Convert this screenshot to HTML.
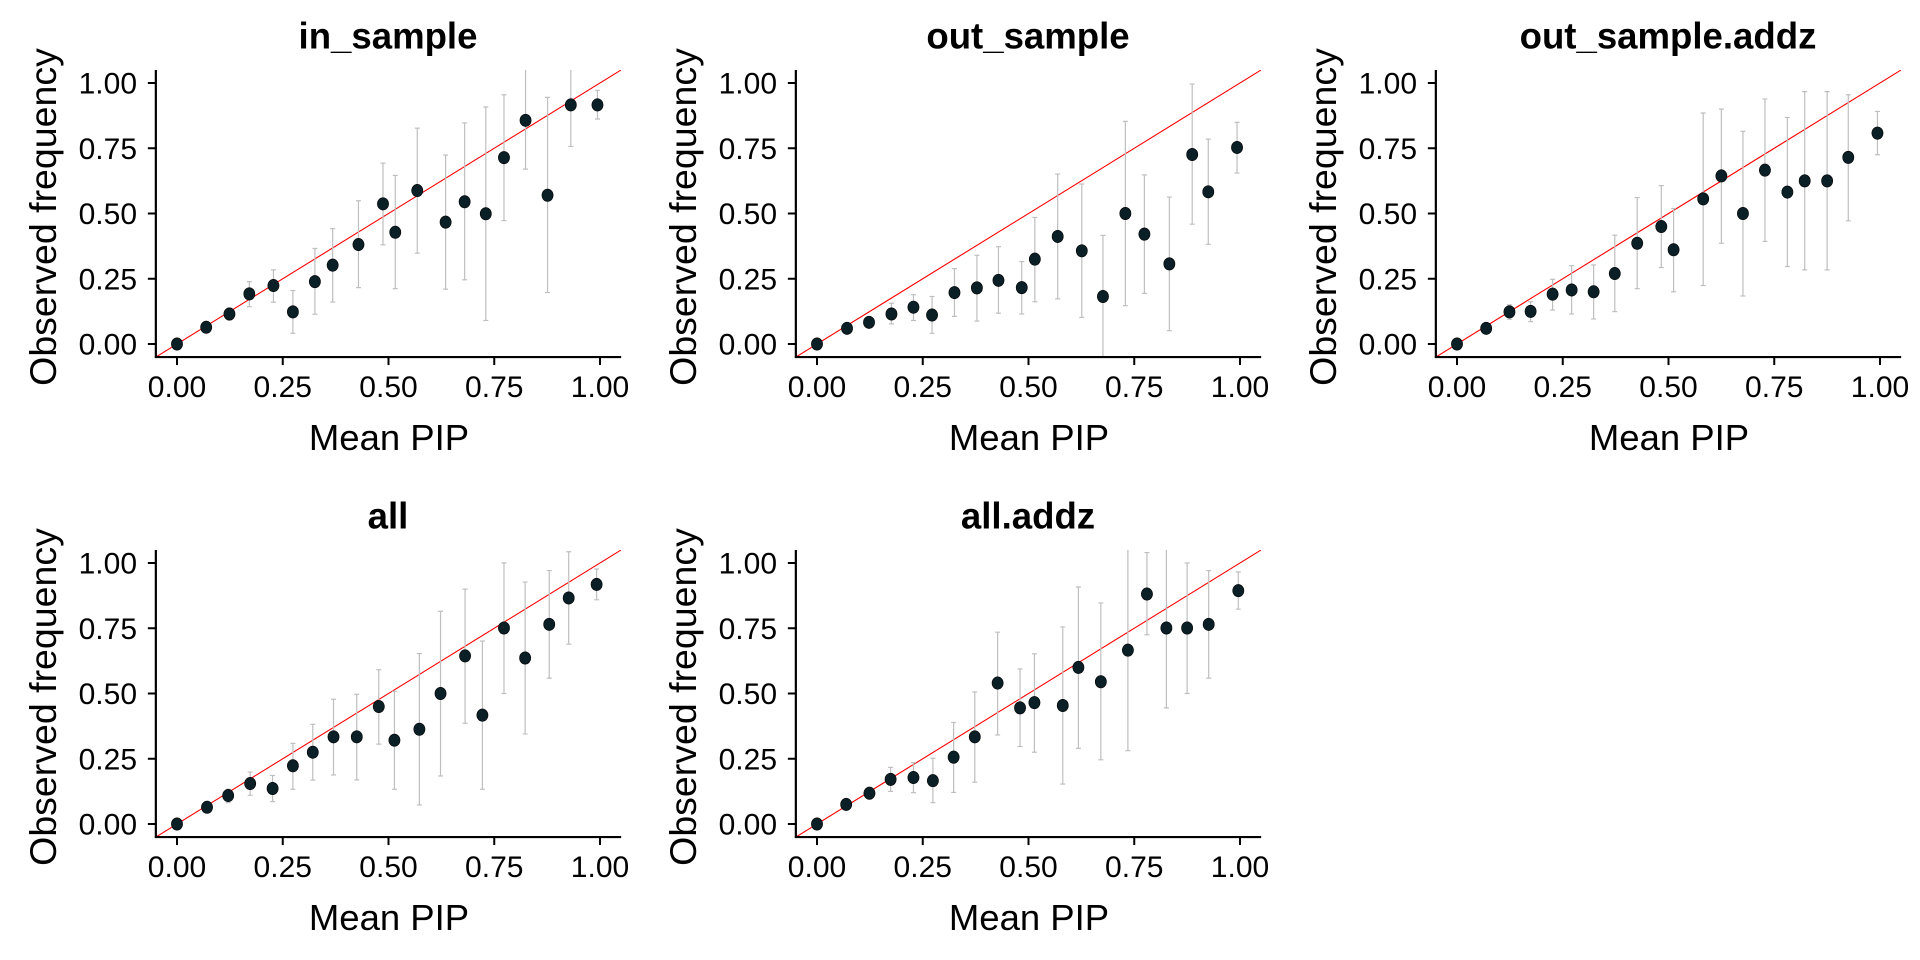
<!DOCTYPE html>
<html><head><meta charset="utf-8"><style>
html,body{margin:0;padding:0;background:#fff;}
svg{display:block;font-family:"Liberation Sans",Arial,sans-serif;}
</style></head><body>
<svg id="chart" width="1920" height="960" viewBox="0 0 1920 960"></svg>
<script>
const ticks=[0,0.25,0.5,0.75,1];
const tickLabels=["0.00","0.25","0.50","0.75","1.00"];
const panelTitles=["in_sample","out_sample","out_sample.addz","all","all.addz"];

const inX=[0,0.069,0.124,0.171,0.228,0.274,0.326,0.368,0.429,0.487,0.516,0.568,0.635,0.680,0.730,0.773,0.824,0.876,0.931,0.994];
const inY=[0,0.064,0.115,0.192,0.224,0.123,0.239,0.302,0.381,0.537,0.428,0.588,0.467,0.545,0.499,0.714,0.857,0.570,0.916,0.916];
const inLo=[0,0.05,0.092,0.143,0.16,0.041,0.114,0.161,0.216,0.38,0.212,0.348,0.21,0.246,0.09,0.473,0.67,0.197,0.757,0.862];
const inHi=[0,0.08,0.137,0.239,0.284,0.205,0.366,0.442,0.549,0.693,0.646,0.827,0.724,0.847,0.908,0.955,1.08,0.945,1.08,0.972];

const outX=[0,0.071,0.123,0.176,0.228,0.272,0.325,0.378,0.429,0.484,0.515,0.569,0.626,0.676,0.729,0.774,0.833,0.887,0.925,0.993];
const outY=[0,0.06,0.083,0.115,0.141,0.111,0.197,0.215,0.244,0.216,0.325,0.412,0.357,0.182,0.5,0.421,0.307,0.726,0.583,0.753];
const outLo=[0,0.05,0.07,0.077,0.09,0.041,0.106,0.088,0.118,0.115,0.162,0.173,0.102,-0.08,0.147,0.194,0.051,0.459,0.382,0.655];
const outHi=[0,0.07,0.095,0.156,0.189,0.182,0.289,0.34,0.373,0.316,0.485,0.651,0.613,0.416,0.853,0.648,0.563,0.996,0.785,0.849];

const oazX=[0,0.069,0.124,0.174,0.226,0.271,0.323,0.373,0.426,0.483,0.512,0.582,0.625,0.676,0.728,0.781,0.822,0.875,0.925,0.994];
const oazY=[0,0.06,0.123,0.125,0.191,0.207,0.2,0.27,0.386,0.45,0.361,0.556,0.644,0.5,0.666,0.582,0.625,0.625,0.715,0.808];
const oazLo=[0,0.05,0.095,0.086,0.13,0.115,0.096,0.124,0.212,0.293,0.2,0.224,0.386,0.184,0.393,0.297,0.284,0.284,0.472,0.725];
const oazHi=[0,0.07,0.15,0.162,0.248,0.3,0.303,0.417,0.561,0.607,0.519,0.885,0.9,0.815,0.939,0.868,0.967,0.967,0.955,0.891];

const allX=[0,0.071,0.121,0.173,0.226,0.274,0.321,0.370,0.425,0.477,0.514,0.573,0.623,0.681,0.722,0.773,0.823,0.880,0.926,0.992];
const allY=[0,0.064,0.109,0.155,0.136,0.223,0.275,0.334,0.334,0.45,0.321,0.363,0.5,0.644,0.417,0.751,0.636,0.765,0.866,0.918];
const allLo=[0,0.055,0.082,0.110,0.086,0.133,0.168,0.188,0.169,0.306,0.133,0.073,0.184,0.386,0.133,0.5,0.345,0.559,0.689,0.859];
const allHi=[0,0.075,0.133,0.199,0.186,0.309,0.382,0.478,0.497,0.591,0.508,0.653,0.815,0.9,0.701,1.0,0.927,0.971,1.043,0.977];

const aazX=[0,0.069,0.124,0.174,0.228,0.274,0.323,0.373,0.427,0.480,0.514,0.581,0.618,0.671,0.735,0.780,0.826,0.875,0.926,0.996];
const aazY=[0,0.075,0.118,0.171,0.178,0.166,0.256,0.334,0.54,0.445,0.465,0.454,0.6,0.545,0.666,0.881,0.751,0.751,0.765,0.894];
const aazLo=[0,0.065,0.095,0.125,0.12,0.082,0.121,0.160,0.341,0.297,0.275,0.153,0.29,0.246,0.281,0.725,0.445,0.5,0.559,0.823];
const aazHi=[0,0.085,0.141,0.217,0.235,0.252,0.389,0.506,0.735,0.594,0.652,0.755,0.908,0.847,1.08,1.04,1.08,1.0,0.971,0.966];

const panels=[
  {t:panelTitles[0],x:inX,y:inY,lo:inLo,hi:inHi,ox:0,oy:0,id:'in-sample'},
  {t:panelTitles[1],x:outX,y:outY,lo:outLo,hi:outHi,ox:640,oy:0,id:'out-sample'},
  {t:panelTitles[2],x:oazX,y:oazY,lo:oazLo,hi:oazHi,ox:1280,oy:0,id:'out-sample-addz'},
  {t:panelTitles[3],x:allX,y:allY,lo:allLo,hi:allHi,ox:0,oy:480,id:'all'},
  {t:panelTitles[4],x:aazX,y:aazY,lo:aazLo,hi:aazHi,ox:640,oy:480,id:'all-addz'}
];

const NS="http://www.w3.org/2000/svg";
const svg=document.getElementById('chart');
function mk(tag,attrs,parent){const e=document.createElementNS(NS,tag);for(const k in attrs)e.setAttribute(k,attrs[k]);parent.appendChild(e);return e;}

panels.forEach((p,pi)=>{
  const g=mk('g',{},svg);
  
  
  const px=v=>p.ox+177+423*v;
  const py=v=>p.oy+344-261*v;
  const L=px(-0.05),R=px(1.05),T=py(1.05),B=py(-0.05);
  const cp=mk('clipPath',{id:'clip'+pi},g);
  mk('rect',{x:L,y:T,width:R-L,height:B-T},cp);
  const plot=mk('g',{'clip-path':'url(#clip'+pi+')'},g);
  
  
  const ref=mk('line',{x1:px(-0.05),y1:py(-0.05),x2:px(1.05),y2:py(1.05),stroke:'#ff0000','stroke-width':1.1},plot);
  
  
  p.x.forEach((xv,i)=>{
    const eb=mk('g',{stroke:'#bfbfbf','stroke-width':1.2},plot);
    
    
    const cx=px(xv);
    mk('line',{x1:cx,x2:cx,y1:py(p.lo[i]),y2:py(p.hi[i])},eb);
    mk('line',{x1:cx-2.5,x2:cx+2.5,y1:py(p.lo[i]),y2:py(p.lo[i])},eb);
    mk('line',{x1:cx-2.5,x2:cx+2.5,y1:py(p.hi[i]),y2:py(p.hi[i])},eb);
  });
  p.x.forEach((xv,i)=>{
    const c=mk('ellipse',{cx:px(xv),cy:py(p.y[i]),rx:5.6,ry:6.2,fill:'#0b1f26',stroke:'#000','stroke-width':0.6},plot);
    
    
  });
  const ya=mk('line',{x1:L,x2:L,y1:T,y2:B+1,stroke:'#000','stroke-width':2.2},g);
  
  
  const xa=mk('line',{x1:L-1,x2:R,y1:B,y2:B,stroke:'#000','stroke-width':2.2},g);
  
  
  ticks.forEach((tv,i)=>{
    mk('line',{x1:px(tv),x2:px(tv),y1:B,y2:B+8,stroke:'#000','stroke-width':2},g);
    const xl=mk('text',{x:px(tv),y:p.oy+397,'text-anchor':'middle','font-size':30,fill:'#000'},g);
    xl.textContent=tickLabels[i];
    
    
    mk('line',{x1:L-8,x2:L,y1:py(tv),y2:py(tv),stroke:'#000','stroke-width':2},g);
    const yl=mk('text',{x:p.ox+137,y:py(tv)+10.5,'text-anchor':'end','font-size':30,fill:'#000'},g);
    yl.textContent=tickLabels[i];
    
    
  });
  const tt=mk('text',{x:p.ox+388,y:p.oy+48.5,'text-anchor':'middle','font-size':36.6,'font-weight':'bold',fill:'#000'},g);
  tt.textContent=p.t;
  
  
  const xt=mk('text',{x:p.ox+389,y:p.oy+450,'text-anchor':'middle','font-size':36.5,fill:'#000'},g);
  xt.textContent='Mean PIP';
  
  
  const yt=mk('text',{x:0,y:0,'text-anchor':'middle','font-size':37.5,fill:'#000',transform:'translate('+(p.ox+56)+','+(p.oy+217)+') rotate(-90)'},g);
  yt.textContent='Observed frequency';
  
  
});
</script>
</body></html>
